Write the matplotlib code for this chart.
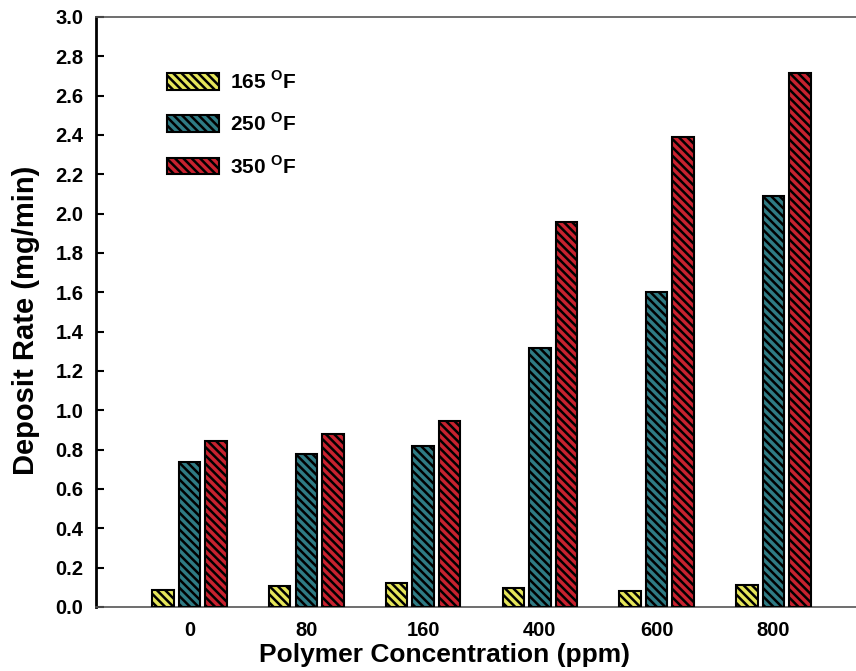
import numpy as np
import matplotlib
matplotlib.use('Agg')
import matplotlib.pyplot as plt

plt.rcParams['font.family'] = ['Liberation Sans', 'DejaVu Sans']
plt.rcParams['font.weight'] = 'bold'
plt.rcParams['mathtext.fontset'] = 'custom'
plt.rcParams['mathtext.bf'] = 'Liberation Sans:bold'
plt.rcParams['mathtext.rm'] = 'Liberation Sans:bold'
plt.rcParams['hatch.linewidth'] = 1.8
plt.rcParams['hatch.color'] = 'black'

# data
conc = ['0', '80', '160', '400', '600', '800']
rate_165 = [0.086, 0.108, 0.124, 0.098, 0.083, 0.112]
rate_250 = [0.739, 0.778, 0.819, 1.315, 1.603, 2.090]
rate_350 = [0.846, 0.880, 0.946, 1.956, 2.390, 2.713]
labels = ['165 $^{\\mathbf{O}}$F', '250 $^{\\mathbf{O}}$F', '350 $^{\\mathbf{O}}$F']
colors = ['#e6e65a', '#2f7b84', '#c8222f']

fig = plt.figure(figsize=(8.56, 6.71), dpi=100)
ax = fig.add_axes([96/856, 64/671, 1 - 96/856, 590/671])

x = np.arange(len(conc))
w = 0.184
step = 0.227
for i, (vals, c, lab) in enumerate(zip([rate_165, rate_250, rate_350], colors, labels)):
	ax.bar(x + (i - 1)*step, vals, width=w, color=c, edgecolor='black',
		linewidth=1.5, hatch='\\\\\\\\', label=lab, zorder=3)

ax.set_xlim(-0.8, 5.706)
ax.set_ylim(0, 3.0)
ax.set_yticks(np.arange(0, 3.01, 0.2))
ax.set_yticklabels(['%.1f' % v for v in np.arange(0, 3.01, 0.2)])
ax.set_xticks(x)
ax.set_xticklabels(conc)
ax.tick_params(axis='y', direction='in', length=6, width=1.5, pad=9, labelsize=14.5)
ax.tick_params(axis='x', length=0, pad=10, labelsize=14.5)

ax.spines['right'].set_visible(False)
ax.spines['left'].set_linewidth(2)
ax.spines['left'].set_color('black')
ax.spines['bottom'].set_linewidth(1.2)
ax.spines['bottom'].set_color('#555555')
ax.spines['top'].set_linewidth(1.2)
ax.spines['top'].set_color('#555555')

fig.text(26/856, 1 - 320/671, 'Deposit Rate (mg/min)', rotation=90,
	ha='center', va='center', fontsize=21, fontweight='bold')
fig.text(445/856, 1 - 655/671, 'Polymer Concentration (ppm)',
	ha='center', va='center', fontsize=19, fontweight='bold')

ax.legend(loc='upper left', bbox_to_anchor=(167/856, 1 - 70/671),
	bbox_transform=fig.transFigure, frameon=False, borderpad=0, borderaxespad=0,
	handlelength=2.5, handleheight=0.85, handletextpad=0.5, labelspacing=0.95,
	prop={'size': 15, 'weight': 'bold'})

plt.savefig('out.png', dpi=100)
